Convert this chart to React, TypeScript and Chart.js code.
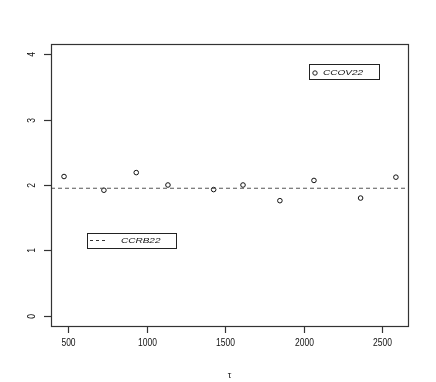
import React, { useEffect, useRef } from "react";
import { Chart, registerables } from "chart.js";

Chart.register(...registerables);

const tauValues = [473, 727, 933, 1135, 1426, 1613, 1848, 2065, 2362, 2587];
const ccovValues = [2.13, 1.92, 2.19, 2.0, 1.93, 2.0, 1.76, 2.07, 1.8, 2.12];
const ccrbLevel = 1.95;
const xTicks = [500, 1000, 1500, 2000, 2500];
const yTicks = [0, 1, 2, 3, 4];
const xLimits = [390, 2664];
const yLimits = [-0.16, 4.16];
const seriesNames = ["CCOV22", "CCRB22"];
const xTitle = "τ";

const FONT = "'Liberation Sans', Arial, Helvetica, sans-serif";

function drawText(
  ctx: CanvasRenderingContext2D,
  text: string,
  x: number,
  y: number,
  font: string,
  align: CanvasTextAlign,
  sx = 1,
  rot = 0
) {
  ctx.save();
  ctx.translate(x, y);
  if (rot) ctx.rotate(rot);
  ctx.scale(sx, 1);
  ctx.font = font;
  ctx.textAlign = align;
  ctx.textBaseline = "middle";
  ctx.fillStyle = "#111";
  ctx.fillText(text, 0, 0);
  ctx.restore();
}

const rAxesPlugin = {
  id: "rAxes",
  afterDraw(chart: any) {
    const ctx: CanvasRenderingContext2D = chart.ctx;
    const { left, right, top, bottom } = chart.chartArea;
    const xs = chart.scales.x;
    const ys = chart.scales.y;
    ctx.save();
    ctx.strokeStyle = "#333";
    ctx.lineWidth = 1.2;
    ctx.strokeRect(Math.round(left) + 0.5, Math.round(top) + 0.5, Math.round(right - left), Math.round(bottom - top));
    const tickFont = `10px ${FONT}`;
    xTicks.forEach((v) => {
      const px = Math.round(xs.getPixelForValue(v)) + 0.5;
      ctx.beginPath();
      ctx.moveTo(px, bottom);
      ctx.lineTo(px, bottom + 7);
      ctx.stroke();
      drawText(ctx, String(v), px, bottom + 17, tickFont, "center", 0.85);
    });
    yTicks.forEach((v) => {
      const py = Math.round(ys.getPixelForValue(v)) + 0.5;
      ctx.beginPath();
      ctx.moveTo(left, py);
      ctx.lineTo(left - 7, py);
      ctx.stroke();
      drawText(ctx, String(v), left - 19, py, tickFont, "center", 0.85, -Math.PI / 2);
    });
    drawText(ctx, xTitle, (left + right) / 2, bottom + 50, `9px ${FONT}`, "center");

    ctx.lineWidth = 1;
    // legend 1: CCOV22 (points)
    const l1x = xs.getPixelForValue(2033);
    const l1y = ys.getPixelForValue(3.85);
    ctx.strokeStyle = "#222";
    ctx.strokeRect(Math.round(l1x) + 0.5, Math.round(l1y) + 0.5, 70, 15);
    ctx.beginPath();
    ctx.arc(Math.round(l1x) + 6, Math.round(l1y) + 9, 2.2, 0, Math.PI * 2);
    ctx.stroke();
    drawText(ctx, seriesNames[0], Math.round(l1x) + 14, Math.round(l1y) + 8.5, `italic 8px ${FONT}`, "left", 1.25);

    // legend 2: CCRB22 (dashed)
    const l2x = xs.getPixelForValue(620);
    const l2y = ys.getPixelForValue(1.27);
    ctx.strokeRect(Math.round(l2x) + 0.5, Math.round(l2y) + 0.5, 89, 15);
    ctx.beginPath();
    ctx.setLineDash([3, 3]);
    ctx.strokeStyle = "#333";
    ctx.moveTo(Math.round(l2x) + 3, Math.round(l2y) + 7.5);
    ctx.lineTo(Math.round(l2x) + 19, Math.round(l2y) + 7.5);
    ctx.stroke();
    ctx.setLineDash([]);
    drawText(ctx, seriesNames[1], Math.round(l2x) + 34, Math.round(l2y) + 8, `italic 8px ${FONT}`, "left", 1.25);
    ctx.restore();
  },
};

export default function App() {
  const ref = useRef<HTMLCanvasElement | null>(null);
  useEffect(() => {
    if (!ref.current) return;
    const chart = new Chart(ref.current, {
      type: "scatter",
      data: {
        datasets: [
          {
            label: seriesNames[1],
            type: "line",
            data: [
              { x: xLimits[0], y: ccrbLevel },
              { x: xLimits[1], y: ccrbLevel },
            ],
            borderColor: "#555",
            borderWidth: 1.2,
            borderDash: [4, 3],
            pointRadius: 0,
            fill: false,
          },
          {
            label: seriesNames[0],
            data: tauValues.map((t, i) => ({ x: t, y: ccovValues[i] })),
            pointStyle: "circle",
            pointRadius: 2.3,
            pointBorderWidth: 1,
            pointBackgroundColor: "rgba(0,0,0,0)",
            pointBorderColor: "#111",
          },
        ],
      },
      options: {
        responsive: false,
        animation: false,
        layout: { padding: { left: 51, top: 44, right: 28, bottom: 56 } },
        plugins: { legend: { display: false }, tooltip: { enabled: false } },
        scales: {
          x: { type: "linear", min: xLimits[0], max: xLimits[1], display: false },
          y: { type: "linear", min: yLimits[0], max: yLimits[1], display: false },
        },
      },
      plugins: [rAxesPlugin],
    });
    return () => chart.destroy();
  }, []);
  return (
    <div style={{ position: "absolute", left: 0, top: 0, width: 436, height: 382, background: "#fff" }}>
      <canvas ref={ref} width={436} height={382} style={{ width: 436, height: 382 }} />
    </div>
  );
}
